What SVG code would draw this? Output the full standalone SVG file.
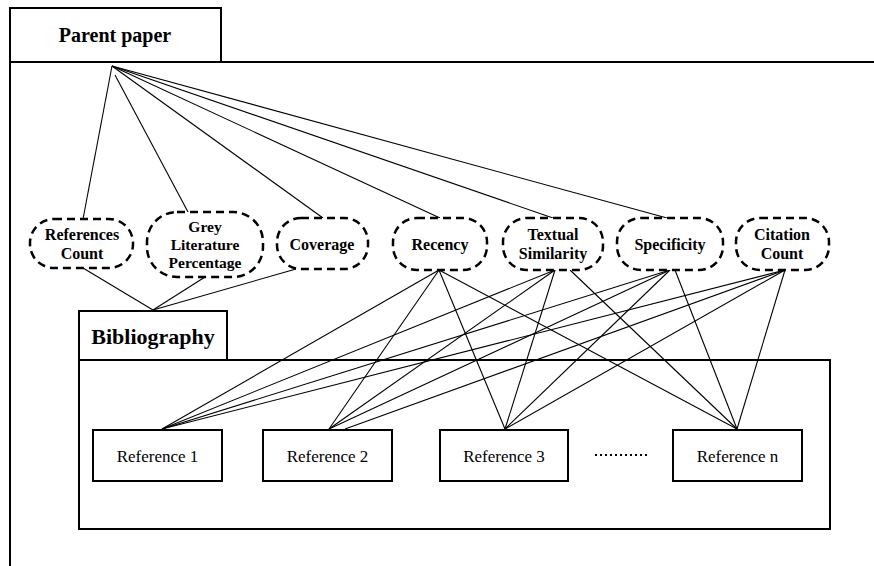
<svg xmlns="http://www.w3.org/2000/svg" width="874" height="566" viewBox="0 0 874 566">
<defs>
<style>
.frame{fill:#fff;stroke:#000;stroke-width:2}
.attr{fill:#fff;stroke:#000;stroke-width:2.5;stroke-dasharray:8 5}
.ref{fill:#fff;stroke:#000;stroke-width:2}
.conn line{stroke:#000;stroke-width:1.1}
</style>
</defs>
<rect width="874" height="566" fill="#fff"/>
<g id="parent-paper">
<path class="frame" d="M10,566 V8 H221 V62 M10,62 H876" fill="none"/>
<text x="115" y="42" font-size="20" font-weight="bold" text-anchor="middle" font-family="Liberation Serif">Parent paper</text>
</g>
<g id="bibliography">
<rect class="frame" x="79" y="311" width="148" height="49"/>
<rect class="frame" x="79" y="360" width="751" height="169"/>
<text x="153" y="344" font-size="22" font-weight="bold" text-anchor="middle" font-family="Liberation Serif">Bibliography</text>
</g>
<g class="conn" id="connectors">
<line x1="112" y1="66" x2="83" y2="219"/>
<line x1="115" y1="75" x2="188" y2="212"/>
<line x1="112" y1="66" x2="323" y2="218"/>
<line x1="112" y1="66" x2="440" y2="218"/>
<line x1="112" y1="66" x2="553" y2="218"/>
<line x1="112" y1="66" x2="667" y2="218"/>
<line x1="83" y1="268" x2="153" y2="310"/>
<line x1="205" y1="277" x2="153" y2="310"/>
<line x1="296" y1="269" x2="153" y2="310"/>
<line x1="439" y1="270" x2="162" y2="429"/>
<line x1="439" y1="270" x2="329" y2="429"/>
<line x1="439" y1="270" x2="505" y2="429"/>
<line x1="439" y1="270" x2="737" y2="429"/>
<line x1="555" y1="270" x2="162" y2="429"/>
<line x1="555" y1="270" x2="329" y2="429"/>
<line x1="555" y1="270" x2="505" y2="429"/>
<line x1="570" y1="270" x2="737" y2="429"/>
<line x1="670" y1="270" x2="162" y2="429"/>
<line x1="670" y1="270" x2="329" y2="429"/>
<line x1="670" y1="270" x2="505" y2="429"/>
<line x1="675" y1="270" x2="737" y2="429"/>
<line x1="785" y1="270" x2="162" y2="429"/>
<line x1="785" y1="270" x2="345" y2="429"/>
<line x1="785" y1="270" x2="505" y2="429"/>
<line x1="785" y1="270" x2="737" y2="429"/>
</g>
<g id="references-count">
<rect class="attr" x="30" y="219" width="103" height="49" rx="24"/>
<text x="82" y="240" font-size="16" font-weight="bold" text-anchor="middle" font-family="Liberation Serif">References</text>
<text x="82" y="259" font-size="16" font-weight="bold" text-anchor="middle" font-family="Liberation Serif">Count</text>
</g>
<g id="grey-literature">
<rect class="attr" x="147" y="212" width="116" height="65" rx="30"/>
<text x="205" y="232" font-size="15.5" font-weight="bold" text-anchor="middle" font-family="Liberation Serif">Grey</text>
<text x="205" y="250" font-size="15.5" font-weight="bold" text-anchor="middle" font-family="Liberation Serif">Literature</text>
<text x="205" y="268" font-size="15.5" font-weight="bold" text-anchor="middle" font-family="Liberation Serif">Percentage</text>
</g>
<g id="coverage">
<rect class="attr" x="277" y="218" width="91" height="51" rx="24"/>
<text x="322" y="250" font-size="16" font-weight="bold" text-anchor="middle" font-family="Liberation Serif">Coverage</text>
</g>
<g id="recency">
<rect class="attr" x="393" y="218" width="94" height="52" rx="24"/>
<text x="440" y="250" font-size="16" font-weight="bold" text-anchor="middle" font-family="Liberation Serif">Recency</text>
</g>
<g id="textual-similarity">
<rect class="attr" x="503" y="218" width="100" height="52" rx="24"/>
<text x="553" y="240" font-size="16" font-weight="bold" text-anchor="middle" font-family="Liberation Serif">Textual</text>
<text x="553" y="259" font-size="16" font-weight="bold" text-anchor="middle" font-family="Liberation Serif">Similarity</text>
</g>
<g id="specificity">
<rect class="attr" x="617" y="218" width="106" height="52" rx="24"/>
<text x="670" y="250" font-size="16" font-weight="bold" text-anchor="middle" font-family="Liberation Serif">Specificity</text>
</g>
<g id="citation-count">
<rect class="attr" x="736" y="218" width="93" height="52" rx="24"/>
<text x="782" y="240" font-size="16" font-weight="bold" text-anchor="middle" font-family="Liberation Serif">Citation</text>
<text x="782" y="259" font-size="16" font-weight="bold" text-anchor="middle" font-family="Liberation Serif">Count</text>
</g>
<g id="reference-1">
<rect class="ref" x="93" y="430" width="129" height="51"/>
<text x="157.5" y="462" font-size="17" text-anchor="middle" font-family="Liberation Serif">Reference  1</text>
</g>
<g id="reference-2">
<rect class="ref" x="263" y="430" width="129" height="51"/>
<text x="327.5" y="462" font-size="17" text-anchor="middle" font-family="Liberation Serif">Reference  2</text>
</g>
<g id="reference-3">
<rect class="ref" x="440" y="430" width="128" height="51"/>
<text x="504" y="462" font-size="17" text-anchor="middle" font-family="Liberation Serif">Reference  3</text>
</g>
<g id="ellipsis">
<line x1="595" y1="455" x2="650" y2="455" stroke="#000" stroke-width="2" stroke-dasharray="2 3"/>
</g>
<g id="reference-n">
<rect class="ref" x="673" y="430" width="129" height="51"/>
<text x="737.5" y="462" font-size="17" text-anchor="middle" font-family="Liberation Serif">Reference  n</text>
</g>
</svg>
